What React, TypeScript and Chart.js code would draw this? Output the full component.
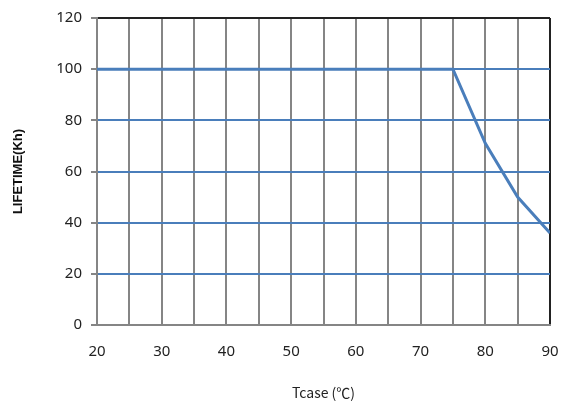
import { useEffect, useRef } from "react";
import { Chart, registerables, type ChartConfiguration } from "chart.js";

Chart.register(...registerables);

// lifetime derating curve
const tcase = [20, 75, 80, 85, 90];
const lifetime = [100, 100, 71, 50, 36];

const X_MIN = 20;
const X_MAX = 90;
const Y_MIN = 0;
const Y_MAX = 120;

const BLUE = "#4a7ebb";
const GRID_GRAY = "#858585";

export default function App() {
  const canvasRef = useRef<HTMLCanvasElement>(null);
  const chartRef = useRef<Chart | null>(null);

  useEffect(() => {
    if (!canvasRef.current) return;
    if (chartRef.current) chartRef.current.destroy();

    const config: ChartConfiguration = {
      type: "line",
      data: {
        datasets: [
          {
            label: "LIFETIME",
            data: tcase.map((x, i) => ({ x, y: lifetime[i] })),
            borderColor: BLUE,
            borderWidth: 3,
            pointRadius: 0,
            tension: 0,
            fill: false,
          },
        ],
      },
      options: {
        responsive: false,
        animation: false,
        layout: { padding: { top: 16, right: 16, left: 0, bottom: 0 } },
        plugins: {
          legend: { display: false },
          tooltip: { enabled: false },
        },
        scales: {
          x: {
            type: "linear",
            min: X_MIN,
            max: X_MAX,
            afterFit: s => { s.height = 92; s.paddingLeft = 0; s.paddingRight = 0; },
            ticks: {
              stepSize: 5,
              padding: 18,
              color: "#222",
              font: { family: "'Noto Sans', sans-serif", size: 15 },
              maxRotation: 0,
              autoSkip: false,
              callback: v => (Number(v) % 10 === 0 ? String(v) : ""),
            },
            grid: {
              drawTicks: false,
              lineWidth: 2,
              color: c => (c.tick && c.tick.value === X_MAX ? "#222" : GRID_GRAY),
            },
            border: { display: true, color: GRID_GRAY, width: 2 },
            title: {
              display: true,
              text: "Tcase (℃)",
              color: "#222",
              font: { family: "'Noto Sans CJK SC', 'Noto Sans', sans-serif", size: 14 },
              padding: { top: 0, bottom: 16 },
            },
          },
          y: {
            min: Y_MIN,
            max: Y_MAX,
            afterFit: s => { s.width = 97; },
            ticks: {
              stepSize: 20,
              padding: 9,
              color: "#222",
              font: { family: "'Noto Sans', sans-serif", size: 15 },
            },
            grid: {
              lineWidth: 2,
              tickLength: 6,
              tickColor: GRID_GRAY,
              color: c => (c.tick && c.tick.value === Y_MAX ? "#222" : c.tick && c.tick.value === Y_MIN ? GRID_GRAY : BLUE),
            },
            border: { display: true, color: GRID_GRAY, width: 2 },
            title: {
              display: true,
              text: "LIFETIME(Kh)",
              color: "#111",
              font: { family: "'Liberation Sans', Arial, sans-serif", size: 13, weight: "bold" },
              padding: { top: 11, bottom: 0 },
            },
          },
        },
      },
    };

    chartRef.current = new Chart(canvasRef.current, config);
    return () => { chartRef.current?.destroy(); chartRef.current = null; };
  }, []);

  return (
    <div style={{ position: "fixed", left: 0, top: 0, width: 566, height: 417, background: "#fff" }}>
      <canvas ref={canvasRef} width={566} height={417} style={{ display: "block" }} />
    </div>
  );
}
